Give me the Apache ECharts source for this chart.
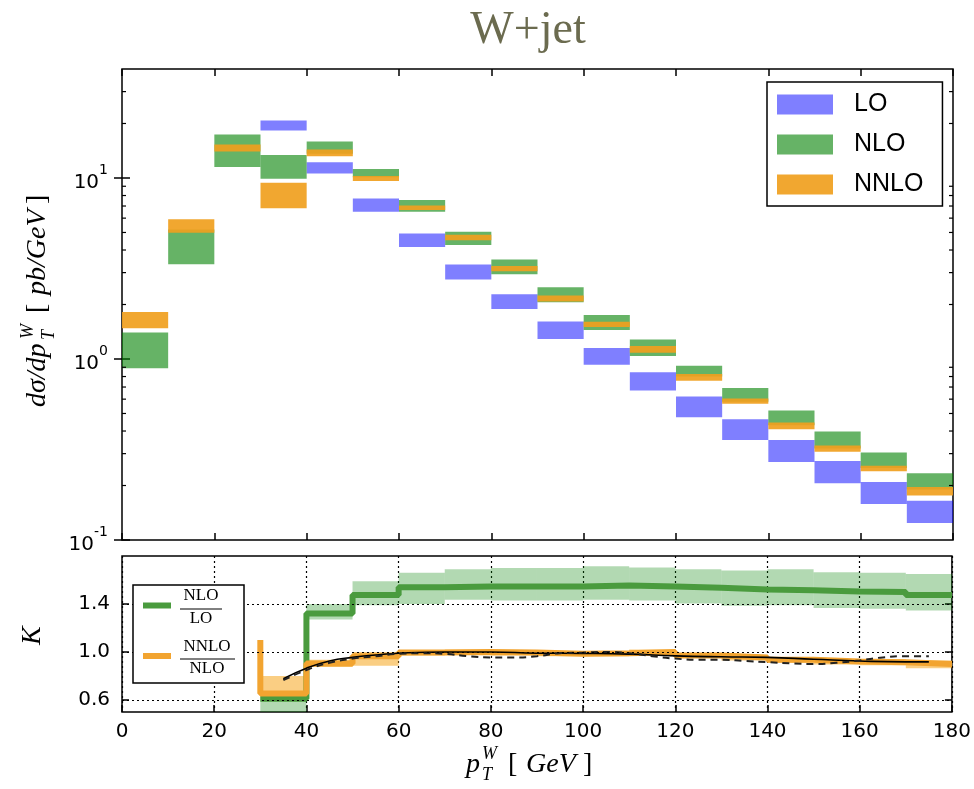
<!DOCTYPE html>
<html><head><meta charset="utf-8">
<script src="https://cdn.jsdelivr.net/npm/echarts@6/dist/echarts.min.js"></script>
<style>html,body{margin:0;padding:0;background:#fff}#c{width:974px;height:789px}</style>
</head><body><div id="c"></div>
<script>
// ---------- data (top panel: d sigma / d pT, pb/GeV) ----------
const binLeft  = [0,10,20,30,40,50,60,70,80,90,100,110,120,130,140,150,160,170];
const binWidth = 10;
const loLow    = [null,null,null,18.3,10.6,6.5,4.16,2.75,1.89,1.29,0.93,0.67,0.477,0.357,0.27,0.206,0.158,0.124];
const loHigh   = [null,null,null,20.8,12.2,7.7,4.94,3.33,2.28,1.61,1.15,0.845,0.62,0.465,0.357,0.273,0.209,0.165];
const nloLow   = [0.89,3.34,11.5,9.9,13.6,10.1,6.5,4.26,2.94,2.06,1.445,1.04,0.80,0.58,0.43,0.32,0.25,0.19];
const nloHigh  = [1.40,5.2,17.4,13.4,15.9,11.2,7.55,5.04,3.55,2.49,1.75,1.28,0.918,0.692,0.519,0.397,0.304,0.234];
const nnloLow  = [1.48,4.98,14.0,6.8,13.2,9.63,6.65,4.53,3.05,2.08,1.50,1.084,0.759,0.565,0.409,0.307,0.240,0.176];
const nnloHigh = [1.82,5.91,15.3,9.4,14.35,10.26,7.05,4.85,3.26,2.24,1.606,1.18,0.826,0.604,0.446,0.333,0.257,0.196];

// ---------- data (bottom panel: K factors) ----------
const kBinLeft  = [30,40,50,60,70,80,90,100,110,120,130,140,150,160,170];
const kNlo      = [0.61,1.32,1.475,1.54,1.545,1.545,1.545,1.555,1.545,1.535,1.52,1.515,1.505,1.50,1.475];
const kNloLow   = [0.45,1.27,1.39,1.40,1.435,1.43,1.43,1.435,1.43,1.405,1.385,1.39,1.367,1.36,1.345];
const kNloHigh  = [0.625,1.40,1.59,1.66,1.69,1.70,1.70,1.715,1.705,1.69,1.68,1.69,1.665,1.66,1.65];
const kNnlo     = [0.655,0.905,0.965,0.995,1.0,0.995,0.985,0.99,1.0,0.97,0.955,0.935,0.92,0.915,0.90];
const kNnloLow  = [0.64,0.875,0.885,0.97,0.975,0.97,0.965,0.965,0.975,0.95,0.93,0.91,0.895,0.89,0.865];
const kNnloHigh = [0.80,0.935,1.0,1.01,1.02,1.01,1.0,1.005,1.02,0.985,0.97,0.955,0.94,0.94,0.93];
const kNnloStart = 1.10;
const fitSolidX  = [35,40,45,50,55,60,70,80,90,100,110,120,130,140,150,160,170,175];
const fitSolidY  = [0.777,0.865,0.925,0.955,0.975,0.99,1.0,1.0,0.99,0.988,0.982,0.968,0.96,0.955,0.94,0.925,0.918,0.918];
const fitDashX   = [35,40,45,50,55,60,65,70,75,80,85,90,95,100,105,110,115,120,125,130,135,140,145,150,155,160,165,170,175];
const fitDashY   = [0.765,0.85,0.91,0.945,0.965,0.985,0.99,0.985,0.965,0.955,0.955,0.965,0.99,0.995,1.0,0.99,0.965,0.945,0.935,0.935,0.925,0.915,0.905,0.9,0.91,0.93,0.955,0.965,0.965];

// ---------- ticks ----------
const xTicks      = [0,20,40,60,80,100,120,140,160,180];
const yMajorTicks = [0.1,1,10];
const yMinorTicks = [0.2,0.3,0.4,0.5,0.6,0.7,0.8,0.9,2,3,4,5,6,7,8,9,20,30];
const kTicks      = [0.6,1.0,1.4];

const C_LO = 'rgba(0,0,255,0.5)';
const C_NLO = 'rgba(0,128,0,0.6)';
const C_NNLO = 'rgba(240,160,30,0.92)';

function rectSeries(name, lo, hi, color, xi, yi, lefts) {
  const data = [];
  lefts.forEach((x, i) => { if (lo[i] != null) data.push([x, x + binWidth, lo[i], hi[i]]); });
  return {
    type: 'custom', name, xAxisIndex: xi, yAxisIndex: yi, clip: true,
    itemStyle: { color }, data, encode: { x: [0, 1], y: [2, 3] },
    renderItem: (p, api) => {
      const a = api.coord([api.value(0), api.value(3)]);
      const b = api.coord([api.value(1), api.value(2)]);
      return { type: 'rect', shape: { x: a[0], y: a[1], width: b[0] - a[0], height: b[1] - a[1] }, style: { fill: color } };
    }
  };
}
function stepData(lefts, vals) {
  const d = lefts.map((x, i) => [x, vals[i]]);
  d.push([lefts[lefts.length - 1] + binWidth, vals[vals.length - 1]]);
  return d;
}

const FONT = 'DejaVu Sans';
const SERIF = '"Liberation Serif"';
const chart = echarts.init(document.getElementById('c'), null, { renderer: 'canvas' });
const tickStyle = { color: '#000', width: 1.5 };

const option = {
  animation: false,
  backgroundColor: '#fff',
  grid: [
    { left: 122, top: 69, width: 831, height: 471, show: true, borderColor: '#000', borderWidth: 1.5, backgroundColor: 'transparent' },
    { left: 122, top: 556, width: 831, height: 156, show: true, borderColor: '#000', borderWidth: 1.5, backgroundColor: 'transparent' }
  ],
  xAxis: [
    { gridIndex: 0, type: 'value', min: 0, max: 180, interval: 20, axisLine: { show: false },
      axisTick: { inside: true, length: 7, lineStyle: tickStyle }, axisLabel: { show: false }, splitLine: { show: false } },
    { gridIndex: 0, type: 'value', position: 'top', min: 0, max: 180, interval: 20, axisLine: { show: false },
      axisTick: { inside: true, length: 7, lineStyle: tickStyle }, axisLabel: { show: false }, splitLine: { show: false } },
    { gridIndex: 1, type: 'value', min: 0, max: 180, interval: 20, axisLine: { show: false },
      axisTick: { inside: true, length: 7, lineStyle: tickStyle },
      axisLabel: { show: true, customValues: xTicks, fontFamily: FONT, fontSize: 20, color: '#000', margin: 10 },
      splitLine: { show: true, lineStyle: { color: '#000', type: [2, 3], width: 1.2 } } }
  ],
  yAxis: [
    { gridIndex: 0, type: 'log', logBase: 10, min: 0.1, max: 40, axisLine: { show: false },
      axisTick: { inside: true, length: 8, customValues: yMajorTicks, lineStyle: tickStyle },
      axisLabel: { customValues: yMajorTicks, margin: 14,
        formatter: v => '{b|10}{s|' + Math.round(Math.log10(v)) + '}',
        rich: { b: { fontFamily: FONT, fontSize: 20, color: '#000', lineHeight: 30, verticalAlign: 'bottom' },
                s: { fontFamily: FONT, fontSize: 14, color: '#000', lineHeight: 30, verticalAlign: 'top' } } },
      splitLine: { show: false } },
    { gridIndex: 0, type: 'log', logBase: 10, min: 0.1, max: 40, position: 'right', axisLine: { show: false },
      axisTick: { inside: true, length: 8, customValues: yMajorTicks, lineStyle: tickStyle },
      axisLabel: { show: false }, splitLine: { show: false } },
    { gridIndex: 1, type: 'value', min: 0.5, max: 1.8, axisLine: { show: false },
      axisTick: { inside: true, length: 7, customValues: kTicks, lineStyle: tickStyle },
      axisLabel: { customValues: kTicks, formatter: v => v.toFixed(1), fontFamily: FONT, fontSize: 20, color: '#000', margin: 12 },
      splitLine: { show: false } },
    { gridIndex: 1, type: 'value', min: 0.5, max: 1.8, position: 'right', axisLine: { show: false },
      axisTick: { inside: true, length: 7, customValues: kTicks, lineStyle: tickStyle },
      axisLabel: { show: false }, splitLine: { show: false } }
  ],
  legend: {
    data: ['LO', 'NLO', 'NNLO'], orient: 'vertical', left: 767, top: 82,
    itemWidth: 56, itemHeight: 20, itemGap: 15, icon: 'rect',
    padding: [10, 19, 9, 10], borderColor: '#000', borderWidth: 1.5, backgroundColor: '#fff',
    textStyle: { fontSize: 25, fontFamily: 'Liberation Sans', color: '#000', padding: [0, 0, 0, 16] },
    selectedMode: false
  },
  series: [
    rectSeries('LO', loLow, loHigh, C_LO, 0, 0, binLeft),
    rectSeries('NLO', nloLow, nloHigh, C_NLO, 0, 0, binLeft),
    rectSeries('NNLO', nnloLow, nnloHigh, C_NNLO, 0, 0, binLeft),
    { type: 'custom', name: 'minor', xAxisIndex: 0, yAxisIndex: 0, silent: true,
      data: yMinorTicks.map(v => [v]),
      renderItem: (p, api) => {
        const l = api.coord([0, api.value(0)]);
        const r = api.coord([180, api.value(0)]);
        return { type: 'group', children: [
          { type: 'line', shape: { x1: l[0], y1: l[1], x2: l[0] + 4, y2: l[1] }, style: { stroke: '#000', lineWidth: 1.2 } },
          { type: 'line', shape: { x1: r[0], y1: r[1], x2: r[0] - 4, y2: r[1] }, style: { stroke: '#000', lineWidth: 1.2 } }
        ] };
      } },
    Object.assign(rectSeries('kNloBand', kNloLow, kNloHigh, 'rgba(0,128,0,0.3)', 2, 2, kBinLeft), {
      markLine: { silent: true, symbol: ['none', 'none'], label: { show: false },
        lineStyle: { color: '#000', type: [2, 3], width: 1.2 },
        data: kTicks.map(v => ({ yAxis: v })) } }),
    rectSeries('kNnloBand', kNnloLow, kNnloHigh, 'rgba(245,165,30,0.55)', 2, 2, kBinLeft),
    { type: 'line', name: 'kNloLine', xAxisIndex: 2, yAxisIndex: 2, step: 'end', symbol: 'none',
      lineStyle: { color: '#4a9b3e', width: 6 }, data: stepData(kBinLeft, kNlo) },
    { type: 'line', name: 'kNnloLine', xAxisIndex: 2, yAxisIndex: 2, step: 'end', symbol: 'none',
      lineStyle: { color: '#f2a430', width: 6 }, data: [[kBinLeft[0], kNnloStart]].concat(stepData(kBinLeft, kNnlo)) },
    { type: 'line', name: 'fitSolid', xAxisIndex: 2, yAxisIndex: 2, smooth: true, symbol: 'none',
      lineStyle: { color: '#000', width: 1.6 }, data: fitSolidX.map((x, i) => [x, fitSolidY[i]]) },
    { type: 'line', name: 'fitDash', xAxisIndex: 2, yAxisIndex: 2, smooth: true, symbol: 'none',
      lineStyle: { color: '#222', width: 2, type: [7, 5] }, data: fitDashX.map((x, i) => [x, fitDashY[i]]) }
  ],
  graphic: [
    { type: 'text', x: 528, y: 8, style: { text: 'W+jet', font: '46px ' + SERIF, fill: '#6b6b4f', textAlign: 'center' } },
    // y-axis title (top panel)
    { type: 'group', x: 38, y: 407, rotation: Math.PI / 2, children: [
      { type: 'text', x: 0, y: 0, style: { text: 'dσ/dp', font: 'italic 28px ' + SERIF, fill: '#000', textVerticalAlign: 'middle' } },
      { type: 'text', x: 68, y: -10, style: { text: 'W', font: 'italic 18px ' + SERIF, fill: '#000', textVerticalAlign: 'middle' } },
      { type: 'text', x: 67, y: 11, style: { text: 'T', font: 'italic 18px ' + SERIF, fill: '#000', textVerticalAlign: 'middle' } },
      { type: 'text', x: 94, y: 0, style: { text: '[', font: '28px ' + SERIF, fill: '#000', textVerticalAlign: 'middle' } },
      { type: 'text', x: 112, y: 0, style: { text: 'pb/GeV', font: 'italic 28px ' + SERIF, fill: '#000', textVerticalAlign: 'middle' } },
      { type: 'text', x: 203, y: 0, style: { text: ']', font: '28px ' + SERIF, fill: '#000', textVerticalAlign: 'middle' } }
    ] },
    // K label
    { type: 'text', x: 33, y: 645, rotation: Math.PI / 2, style: { text: 'K', font: 'italic 28px ' + SERIF, fill: '#000', textVerticalAlign: 'middle' } },
    // x-axis title
    { type: 'group', x: 466, y: 765, children: [
      { type: 'text', x: 0, y: 0, style: { text: 'p', font: 'italic 28px ' + SERIF, fill: '#000', textVerticalAlign: 'middle' } },
      { type: 'text', x: 16, y: -11, style: { text: 'W', font: 'italic 18px ' + SERIF, fill: '#000', textVerticalAlign: 'middle' } },
      { type: 'text', x: 16, y: 10, style: { text: 'T', font: 'italic 18px ' + SERIF, fill: '#000', textVerticalAlign: 'middle' } },
      { type: 'text', x: 42, y: 0, style: { text: '[', font: '28px ' + SERIF, fill: '#000', textVerticalAlign: 'middle' } },
      { type: 'text', x: 60, y: 0, style: { text: 'GeV', font: 'italic 28px ' + SERIF, fill: '#000', textVerticalAlign: 'middle' } },
      { type: 'text', x: 117, y: 0, style: { text: ']', font: '28px ' + SERIF, fill: '#000', textVerticalAlign: 'middle' } }
    ] },
    // bottom legend
    { type: 'rect', shape: { x: 133, y: 585, width: 111, height: 98 }, style: { fill: '#fff', stroke: '#000', lineWidth: 1.5 }, z: 100 },
    { type: 'line', shape: { x1: 143, y1: 605.5, x2: 171, y2: 605.5 }, style: { stroke: '#4a9b3e', lineWidth: 6 }, z: 101 },
    { type: 'text', x: 201, y: 596, style: { text: 'NLO', font: '17px ' + SERIF, fill: '#000', textAlign: 'center', textVerticalAlign: 'middle' }, z: 101 },
    { type: 'line', shape: { x1: 180, y1: 609, x2: 222, y2: 609 }, style: { stroke: '#000', lineWidth: 1 }, z: 101 },
    { type: 'text', x: 201, y: 619, style: { text: 'LO', font: '17px ' + SERIF, fill: '#000', textAlign: 'center', textVerticalAlign: 'middle' }, z: 101 },
    { type: 'line', shape: { x1: 143, y1: 656, x2: 171, y2: 656 }, style: { stroke: '#f2a430', lineWidth: 6 }, z: 101 },
    { type: 'text', x: 207, y: 647, style: { text: 'NNLO', font: '17px ' + SERIF, fill: '#000', textAlign: 'center', textVerticalAlign: 'middle' }, z: 101 },
    { type: 'line', shape: { x1: 180, y1: 659, x2: 235, y2: 659 }, style: { stroke: '#000', lineWidth: 1 }, z: 101 },
    { type: 'text', x: 207, y: 669, style: { text: 'NLO', font: '17px ' + SERIF, fill: '#000', textAlign: 'center', textVerticalAlign: 'middle' }, z: 101 }
  ]
};
chart.setOption(option);
</script>
</body></html>
